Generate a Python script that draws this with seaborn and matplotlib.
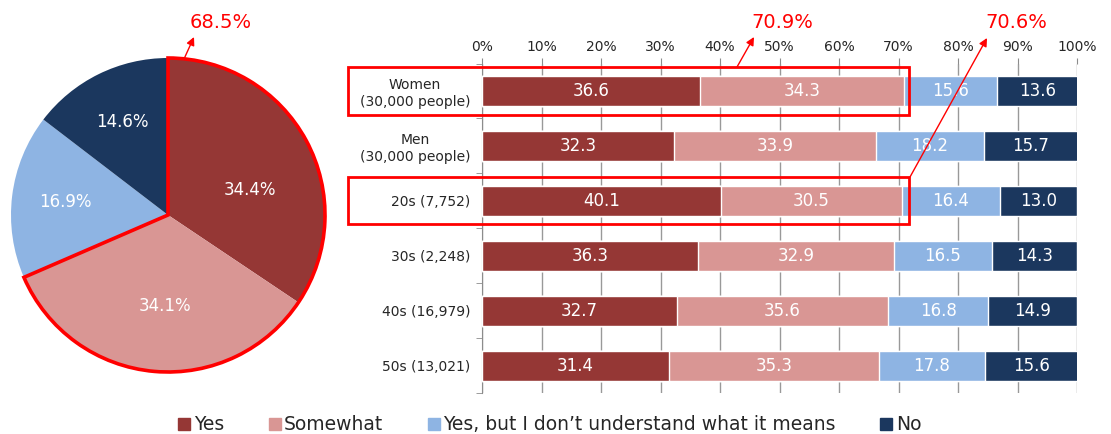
import numpy as np
import pandas as pd
import seaborn as sns
import matplotlib
matplotlib.use("Agg")
import matplotlib.pyplot as plt
from matplotlib.patches import Wedge, Rectangle

sns.set_style("white")
plt.rcParams["font.family"] = ["DejaVu Sans"]

# ---- data ----
answers = ["Yes", "Somewhat", "Yes, but I don\u2019t understand what it means", "No"]
colors = ["#953735", "#D99694", "#8EB4E3", "#1B375E"]

pie_values = [34.4, 34.1, 16.9, 14.6]
pie_highlight = "68.5%"

groups = ["Women\n(30,000 people)", "Men\n(30,000 people)", "20s (7,752)",
          "30s (2,248)", "40s (16,979)", "50s (13,021)"]
yes_vals = [36.6, 32.3, 40.1, 36.3, 32.7, 31.4]
somewhat_vals = [34.3, 33.9, 30.5, 32.9, 35.6, 35.3]
yesbut_vals = [15.6, 18.2, 16.4, 16.5, 16.8, 17.8]
no_vals = [13.6, 15.7, 13.0, 14.3, 14.9, 15.6]
highlight_labels = ["70.9%", "70.6%"]

W, H = 1111, 434
fig = plt.figure(figsize=(W / 100, H / 100), dpi=100)

# ---- pie ----
cx, cy, r = 168, 215, 157
pw = 377
ax_pie = fig.add_axes([0, 0, pw / W, 1])
wedges, _, autotexts = ax_pie.pie(pie_values, colors=colors, startangle=90,
                                  counterclock=False, radius=1,
                                  autopct="%.1f%%", pctdistance=0.66,
                                  wedgeprops=dict(linewidth=0),
                                  textprops=dict(color="white", fontsize=12))
# the two big slices have their labels a bit closer in, like the original
autotexts[0].set_position((0.52, 0.16))
autotexts[1].set_position((-0.02, -0.58))
ax_pie.set_aspect("auto")
ax_pie.set_xlim(-cx / r, (pw - cx) / r)
ax_pie.set_ylim((cy - H) / r, cy / r)
ax_pie.axis("off")
span = (pie_values[0] + pie_values[1]) * 3.6
ax_pie.add_patch(Wedge((0, 0), 1, 90 - span, 90, fill=False,
                       edgecolor="red", linewidth=2.6, zorder=5))

# ---- stacked bars ----
ax = fig.add_axes([482 / W, 1 - 393 / H, 595 / W, (393 - 63.5) / H])
df = pd.DataFrame({"group": groups, "Yes": yes_vals, "Somewhat": somewhat_vals,
                   "YesBut": yesbut_vals, "No": no_vals})
series = [df["Yes"], df["Somewhat"], df["YesBut"], df["No"]]
cums = np.cumsum(np.array(series), axis=0)

for i in range(3, -1, -1):
    sns.barplot(x=cums[i], y=df["group"], color=colors[i], orient="h",
                width=0.546, saturation=1, ax=ax, zorder=3)

for i in range(4):
    starts = cums[i] - np.array(series[i])
    for row, (s, v) in enumerate(zip(starts, series[i])):
        ax.text(s + v / 2, row, f"{v:.1f}", color="white", fontsize=12,
                ha="center", va="center", zorder=6)

ax.set_xlim(0, 100)
ax.set_ylim(5.5, -0.5)
ax.set_xticks(np.arange(0, 101, 10))
ax.set_xticklabels([f"{t}%" for t in range(0, 101, 10)])
ax.xaxis.tick_top()
ax.tick_params(axis="x", which="major", length=4, color="#8C8C8C",
               labelsize=10, pad=3, direction="out")
ax.grid(axis="x", color="#999999", linewidth=1, zorder=0)
ax.set_axisbelow(True)
ax.set_xlabel("")
ax.set_ylabel("")
ax.tick_params(axis="y", which="major", length=0, labelsize=10, pad=8.5)
ax.set_yticks(np.arange(-0.5, 6, 1), minor=True)
ax.tick_params(axis="y", which="minor", length=4, color="#8C8C8C",
               direction="out", left=True)
for lab in ax.get_yticklabels():
    lab.set_multialignment("center")
for side in ["top", "right", "bottom"]:
    ax.spines[side].set_visible(False)
ax.spines["left"].set_color("#8C8C8C")

# highlight boxes
for row in [0, 2]:
    ax.add_patch(Rectangle((-22.5, row - 0.43), 22.5 + 71.8, 0.86, fill=False,
                           edgecolor="red", linewidth=2, clip_on=False, zorder=8))

# ---- red annotations (figure pixels) ----
def note(label, tail, head, txt):
    fig.add_artist(plt.Annotation("", xy=(head[0], H - head[1]), xycoords="figure pixels",
                                  xytext=(tail[0], H - tail[1]), textcoords="figure pixels",
                                  arrowprops=dict(arrowstyle="-|>", color="red", lw=1,
                                                  mutation_scale=12,
                                                  shrinkA=0, shrinkB=0)))
    fig.text(txt[0] / W, 1 - txt[1] / H, label, color="red", fontsize=14,
             ha="center", va="center")

note(pie_highlight, (184, 59), (194, 37), (221, 22))
note(highlight_labels[0], (737, 67), (754, 37), (782, 22))
note(highlight_labels[1], (910, 177), (987, 38), (1016, 22))

# ---- legend ----
handles = [plt.Line2D([], [], marker="s", linestyle="", markersize=8,
                      markerfacecolor=c, markeredgecolor=c) for c in colors]
fig.legend(handles, answers, loc="center", bbox_to_anchor=(550 / W, 1 - 425 / H),
           ncol=4, frameon=False, fontsize=13.5, handlelength=0.6,
           handletextpad=0.2, columnspacing=2.4, borderaxespad=0)

fig.savefig("out.png", dpi=100)
